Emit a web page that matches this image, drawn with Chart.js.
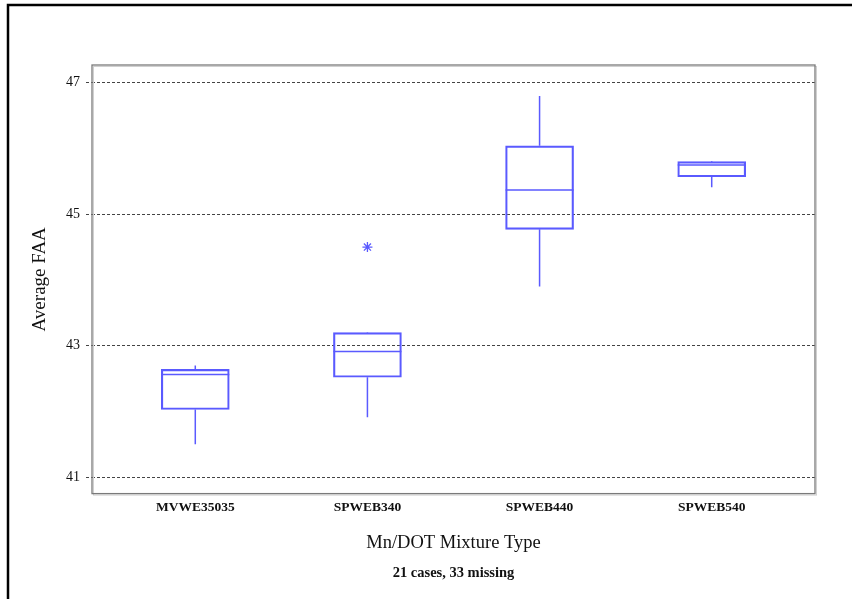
<!DOCTYPE html>
<html>
<head>
<meta charset="utf-8">
<script src="https://cdn.jsdelivr.net/npm/chart.js@4.4.1/dist/chart.umd.min.js"></script>
<style>
  html, body { margin:0; padding:0; background:#fff; }
  #wrap { width:852px; height:599px; }
</style>
</head>
<body>
<div id="wrap"><canvas id="chart" width="852" height="599"></canvas></div>
<script>
// box plot of Average FAA by mixture type
const categories  = ["MVWE35035", "SPWEB340", "SPWEB440", "SPWEB540"];
const whiskerLow  = [41.50, 41.91, 43.90, 45.41];
const q1          = [42.03, 42.52, 44.77, 45.57];
const median      = [42.56, 42.91, 45.37, 45.75];
const q3          = [42.64, 43.20, 46.04, 45.80];
const whiskerHigh = [42.70, 43.21, 46.80, 45.81];
const outlierCat  = [1];
const outlierVal  = [44.50];
const yTicks      = [41, 43, 45, 47];

const BLUE = "#5a5aff";
const SERIF = "'Liberation Serif', 'Times New Roman', serif";

// frame round the page + plot border
const framePlugin = {
  id: "frame",
  beforeDraw(c){
    const ctx = c.ctx;
    ctx.save();
    ctx.fillStyle = "#fff";
    ctx.fillRect(0, 0, c.width, c.height);
    ctx.strokeStyle = "#000";
    ctx.lineWidth = 2.5;
    ctx.beginPath();
    ctx.moveTo(8, 599);
    ctx.lineTo(8, 5);
    ctx.lineTo(852, 5);
    ctx.stroke();
    ctx.restore();
  },
  beforeDatasetsDraw(c){
    const a = c.chartArea, ctx = c.ctx;
    ctx.save();
    ctx.strokeStyle = "#d0d0d0";
    ctx.lineWidth = 1;
    ctx.strokeRect(a.left + 1.5, a.top + 1.5, a.right - a.left, a.bottom - a.top);
    ctx.strokeStyle = "#7a7a7a";
    ctx.lineWidth = 1.3;
    ctx.strokeRect(a.left, a.top, a.right - a.left, a.bottom - a.top);
    ctx.restore();
  }
};

// whiskers and medians
const boxPlugin = {
  id: "boxes",
  afterDatasetsDraw(c){
    const x = c.scales.x, y = c.scales.y, ctx = c.ctx;
    const half = 34;
    ctx.save();
    ctx.strokeStyle = BLUE;
    ctx.lineWidth = 1.5;
    categories.forEach((_, i)=>{
      const px = x.getPixelForValue(i);
      ctx.beginPath();
      ctx.moveTo(px - half, y.getPixelForValue(median[i]));
      ctx.lineTo(px + half, y.getPixelForValue(median[i]));
      ctx.moveTo(px, y.getPixelForValue(q3[i]));
      ctx.lineTo(px, y.getPixelForValue(whiskerHigh[i]));
      ctx.moveTo(px, y.getPixelForValue(q1[i]));
      ctx.lineTo(px, y.getPixelForValue(whiskerLow[i]));
      ctx.stroke();
    });
    ctx.restore();
  }
};

const ctx = document.getElementById("chart").getContext("2d");
new Chart(ctx, {
  type: "bar",
  data: {
    datasets: [
      {
        type: "bar",
        data: categories.map((_, i)=>({ x: i, y: [q1[i], q3[i]] })),
        backgroundColor: "rgba(0,0,0,0)",
        borderColor: BLUE,
        borderWidth: 1.5,
        borderSkipped: false,
        barThickness: 68
      },
      {
        type: "scatter",
        data: outlierCat.map((c, i)=>({ x: c, y: outlierVal[i] })),
        pointStyle: "star",
        radius: 5,
        borderColor: BLUE,
        borderWidth: 1.3,
        backgroundColor: BLUE
      }
    ]
  },
  options: {
    responsive: false,
    animation: false,
    layout: { padding: { left: 0, top: 65, right: 37, bottom: 0 } },
    plugins: {
      legend: { display: false },
      tooltip: { enabled: false },
      title: {
        display: true,
        position: "bottom",
        fullSize: false,
        text: "21 cases, 33 missing",
        color: "#111",
        font: { family: SERIF, size: 14.5, weight: "bold", lineHeight: 1.2 },
        padding: { top: 0, bottom: 17 }
      }
    },
    scales: {
      x: {
        type: "linear",
        offset: false,
        min: -0.6,
        max: 3.6,
        afterBuildTicks: (s)=>{ s.ticks = categories.map((_, i)=>({ value: i })); },
        afterFit: (s)=>{ s.height = 71; },
        grid: { display: false, drawTicks: false, offset: false },
        border: { display: false },
        ticks: {
          padding: 6,
          color: "#111",
          font: { family: SERIF, size: 13.5, weight: "bold" },
          callback: (v)=> categories[v] ?? ""
        },
        title: {
          display: true,
          text: "Mn/DOT Mixture Type",
          color: "#111",
          font: { family: SERIF, size: 18.5 },
          padding: { top: 0, bottom: 10 }
        }
      },
      y: {
        min: 40.75,
        max: 47.27,
        afterBuildTicks: (s)=>{ s.ticks = yTicks.map(v=>({ value: v })); },
        afterFit: (s)=>{ s.width = 92; },
        grid: {
          color: "#444",
          lineWidth: 1,
          drawTicks: true,
          tickLength: 6,
          tickColor: "#444",
          tickBorderDash: [3, 2]
        },
        border: { display: false, dash: [3, 2] },
        ticks: {
          padding: 6,
          color: "#111",
          font: { family: SERIF, size: 14 }
        },
        title: {
          display: true,
          text: "Average FAA",
          color: "#111",
          font: { family: SERIF, size: 19 },
          padding: { top: 29, bottom: 0 }
        }
      }
    }
  },
  plugins: [framePlugin, boxPlugin]
});
</script>
</body>
</html>
